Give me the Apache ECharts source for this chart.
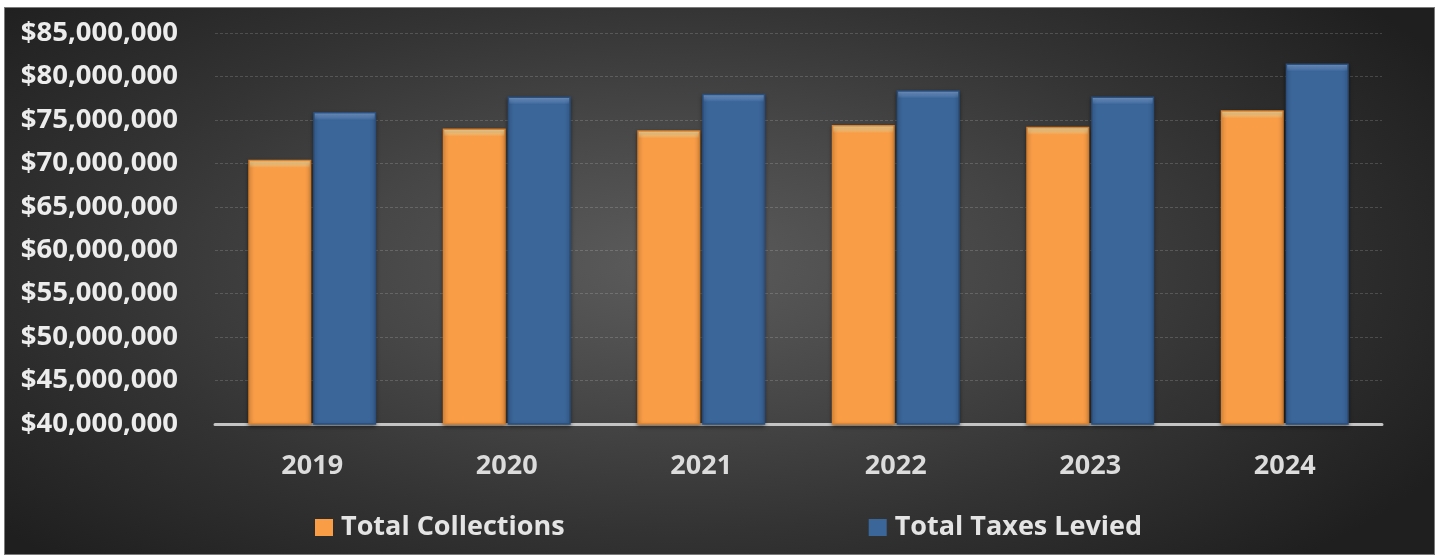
<!DOCTYPE html>
<html>
<head>
<meta charset="utf-8">
<title>Total Collections vs Total Taxes Levied</title>
<script src="https://cdn.jsdelivr.net/npm/echarts@6/dist/echarts.min.js"></script>
<style>
  html, body { margin: 0; padding: 0; background: #ffffff; }
  #chart {
    position: absolute;
    left: 4px; top: 7px;
    width: 1431px; height: 548px;
    background: radial-gradient(ellipse 62% 75% at 47% 47%, #5c5c5c 0%, #474747 35%, #333333 65%, #1f1f1f 100%);
    box-shadow: inset 0 0 0 1px #7a7a7a;
  }
</style>
</head>
<body>
<div id="chart"></div>
<script>
// Tax years on the category axis
const years = ['2019', '2020', '2021', '2022', '2023', '2024'];

// Dollar amounts per year
const totalCollections = [70400000, 74000000, 73800000, 74400000, 74200000, 76100000];
const totalTaxesLevied = [75900000, 77700000, 78000000, 78400000, 77700000, 81500000];

// Value axis range and step
const yMin = 40000000;
const yMax = 85000000;
const yStep = 5000000;

const seriesNames = ['Total Collections', 'Total Taxes Levied'];

const FONT = '"Open Sans", "DejaVu Sans", sans-serif';
const chartEl = document.getElementById('chart');
const chart = echarts.init(chartEl, null, { renderer: 'canvas' });

const gridTop = 26, gridBottom = 131;
const plotHeight = chartEl.clientHeight - gridTop - gridBottom;

// Bevelled bar fill: a light band across the top, then the body colour.
function bevelItems(values, top, mid, body, edge) {
  return values.map(function (v) {
    const hPx = (v - yMin) / (yMax - yMin) * plotHeight;
    const f = Math.min(0.2, 8 / hPx);
    return {
      value: v,
      itemStyle: {
        color: new echarts.graphic.LinearGradient(0, 0, 0, 1, [
          { offset: 0, color: top },
          { offset: f * 0.6, color: mid },
          { offset: f, color: body },
          { offset: 1, color: body }
        ]),
        borderColor: edge,
        borderWidth: 1.5
      }
    };
  });
}

function money(v) {
  return '$' + Math.round(v).toString().replace(/\B(?=(\d{3})+(?!\d))/g, ',');
}

const option = {
  backgroundColor: 'transparent',
  animation: false,
  grid: { left: 211, right: 53, top: gridTop, bottom: gridBottom, containLabel: false },
  legend: {
    data: seriesNames,
    left: 306,
    top: 502,
    icon: 'rect',
    itemWidth: 18,
    itemHeight: 17,
    itemGap: 304,
    textStyle: { color: '#e4e4e4', fontFamily: FONT, fontWeight: 'bold', fontSize: 27, padding: [0, 0, 0, 3] }
  },
  xAxis: {
    type: 'category',
    data: years,
    axisTick: { show: false },
    axisLine: { show: true, lineStyle: { color: '#c4c4c4', width: 3, type: [3, 1] } },
    axisLabel: { color: '#dcdcdc', fontFamily: FONT, fontWeight: 'bold', fontSize: 27, margin: 29 }
  },
  yAxis: {
    type: 'value',
    min: yMin,
    max: yMax,
    interval: yStep,
    axisLine: { show: false },
    axisTick: { show: false },
    splitLine: { show: true, lineStyle: { color: 'rgba(255,255,255,0.16)', width: 1, type: [3, 2] } },
    axisLabel: {
      color: '#ececec',
      fontFamily: FONT,
      fontWeight: 'bold',
      fontSize: 27.5,
      margin: 37,
      formatter: money
    }
  },
  series: [
    {
      name: seriesNames[0],
      type: 'bar',
      barWidth: '32.4%',
      barGap: '3%',
      color: '#f99d47',
      data: bevelItems(totalCollections, '#fde0a0', '#fcc478', '#f99d47', '#d9822f'),
      itemStyle: { shadowColor: 'rgba(0,0,0,0.45)', shadowBlur: 4, shadowOffsetY: 2 }
    },
    {
      name: seriesNames[1],
      type: 'bar',
      barWidth: '32.4%',
      barGap: '3%',
      color: '#3b6699',
      data: bevelItems(totalTaxesLevied, '#7ea3d2', '#5a84ba', '#3b6699', '#2a4f7e'),
      itemStyle: { shadowColor: 'rgba(0,0,0,0.45)', shadowBlur: 4, shadowOffsetY: 2 }
    }
  ]
};

chart.setOption(option);
</script>
</body>
</html>
